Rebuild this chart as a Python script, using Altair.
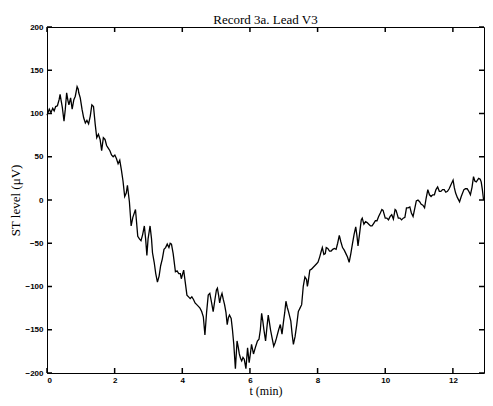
import altair as alt
import pandas as pd

# Time (min) and ST level (µV)
t_min = [0.0, 0.067, 0.116, 0.169, 0.212, 0.256, 0.308, 0.358, 0.387, 0.422, 0.453, 0.503,
         0.541, 0.581, 0.619, 0.648, 0.698, 0.744, 0.794, 0.837, 0.890, 0.924, 0.939, 0.983,
         1.035, 1.084, 1.134, 1.180, 1.230, 1.279, 1.326, 1.375, 1.424, 1.471, 1.520, 1.570,
         1.616, 1.666, 1.715, 1.762, 1.811, 1.860, 1.907, 1.956, 2.006, 2.052, 2.102, 2.151,
         2.198, 2.247, 2.297, 2.343, 2.378, 2.436, 2.488, 2.538, 2.616, 2.683, 2.733, 2.779,
         2.828, 2.878, 2.916, 2.953, 2.988, 3.047, 3.090, 3.119, 3.169, 3.215, 3.265, 3.314,
         3.360, 3.410, 3.459, 3.506, 3.555, 3.605, 3.642, 3.680, 3.730, 3.797, 3.846, 3.895,
         3.942, 3.971, 4.041, 4.087, 4.137, 4.186, 4.233, 4.282, 4.331, 4.378, 4.427, 4.477,
         4.523, 4.573, 4.622, 4.669, 4.718, 4.767, 4.814, 4.863, 4.913, 4.965, 5.009, 5.038,
         5.073, 5.105, 5.140, 5.174, 5.212, 5.250, 5.291, 5.328, 5.363, 5.395, 5.445, 5.483,
         5.523, 5.570, 5.619, 5.654, 5.686, 5.721, 5.756, 5.794, 5.831, 5.881, 5.930, 5.977,
         6.012, 6.047, 6.105, 6.172, 6.221, 6.267, 6.308, 6.346, 6.381, 6.413, 6.462, 6.500,
         6.541, 6.578, 6.608, 6.657, 6.703, 6.744, 6.782, 6.849, 6.898, 6.948, 6.994, 7.029,
         7.064, 7.102, 7.140, 7.209, 7.247, 7.285, 7.334, 7.384, 7.430, 7.480, 7.529, 7.576,
         7.625, 7.674, 7.698, 7.721, 7.770, 7.820, 7.866, 7.916, 7.965, 8.012, 8.061, 8.110,
         8.140, 8.186, 8.227, 8.256, 8.302, 8.352, 8.401, 8.448, 8.497, 8.547, 8.593, 8.642,
         8.686, 8.738, 8.788, 8.837, 8.884, 8.933, 8.983, 9.029, 9.078, 9.128, 9.166, 9.195,
         9.238, 9.291, 9.320, 9.369, 9.419, 9.465, 9.514, 9.564, 9.610, 9.660, 9.709, 9.756,
         9.805, 9.855, 9.901, 9.936, 10.000, 10.047, 10.096, 10.145, 10.192, 10.241, 10.291,
         10.320, 10.387, 10.436, 10.483, 10.532, 10.581, 10.628, 10.677, 10.727, 10.773,
         10.823, 10.872, 10.919, 10.968, 11.017, 11.064, 11.113, 11.163, 11.209, 11.259,
         11.308, 11.355, 11.404, 11.453, 11.500, 11.549, 11.599, 11.645, 11.695, 11.744,
         11.791, 11.840, 11.890, 11.936, 12.006, 12.044, 12.081, 12.131, 12.198, 12.247,
         12.326, 12.372, 12.422, 12.471, 12.518, 12.567, 12.610, 12.648, 12.692, 12.762,
         12.808, 12.837, 12.872, 12.907]

st_uv = [98, 105, 101, 106, 103, 108, 109, 116, 122, 114, 107, 91,
         105, 124, 115, 110, 118, 105, 116, 120, 131, 128, 124, 118,
         105, 95, 89, 92, 88, 97, 110, 108, 88, 72, 76, 70,
         57, 72, 70, 63, 60, 57, 52, 50, 52, 48, 42, 46,
         35, 22, 4, 8, 17, -2, -30, -20, -11, -42, -45, -47,
         -40, -30, -45, -64, -45, -30, -45, -61, -72, -85, -95, -88,
         -76, -68, -57, -55, -51, -55, -50, -51, -62, -83, -82, -85,
         -85, -91, -81, -95, -110, -112, -114, -112, -115, -119, -121, -123,
         -125, -129, -135, -156, -130, -110, -108, -118, -129, -115, -104, -102,
         -110, -119, -112, -108, -115, -121, -130, -144, -136, -133, -137, -150,
         -167, -195, -163, -170, -178, -183, -186, -182, -184, -195, -171, -188,
         -178, -167, -178, -169, -163, -161, -150, -131, -140, -150, -163, -148,
         -133, -142, -150, -160, -169, -165, -160, -150, -144, -155, -140, -130,
         -117, -124, -129, -140, -155, -167, -158, -144, -129, -125, -121, -100,
         -89, -92, -100, -95, -81, -80, -78, -76, -74, -72, -66, -59,
         -55, -63, -62, -55, -56, -59, -59, -57, -56, -57, -50, -41,
         -48, -55, -58, -62, -66, -72, -62, -51, -40, -31, -42, -53,
         -40, -23, -21, -28, -25, -26, -28, -30, -30, -27, -24, -24,
         -19, -15, -11, -12, -21, -21, -23, -19, -17, -22, -11,
         -12, -21, -21, -23, -21, -20, -9, -9, -8, -15,
         -19, -10, -1, 0, -2, -5, -6, -9, 2, 12,
         6, 4, 6, 6, 12, 15, 10, 10, 12, 12,
         9, 10, 13, 17, 23, 14, 8, 3, -2, 4,
         12, 13, 13, 10, 6, 15, 27, 22, 21, 25,
         24, 21, 12, 0]

x_ticks = [0, 2, 4, 6, 8, 10, 12]
y_ticks = [-200, -150, -100, -50, 0, 50, 100, 150, 200]

W, H = 437, 346
TICK = 5

df = pd.DataFrame({"t": t_min, "st": st_uv})
xt = pd.DataFrame({"t": x_ticks})
yt = pd.DataFrame({"st": y_ticks})

xscale = alt.Scale(domain=[0, 12.92], nice=False, zero=False)
yscale = alt.Scale(domain=[-200, 200], nice=False, zero=False)

xaxis = alt.Axis(title="t (min)", values=x_ticks, tickSize=0, domain=False, grid=False,
                 labelFont="Liberation Sans", labelFontWeight="bold", labelFontSize=8,
                 labelColor="black", labelPadding=3,
                 titleFont="Liberation Serif", titleFontSize=12, titleFontWeight="normal",
                 titleColor="black", titlePadding=1)
yaxis = alt.Axis(title="ST level (μV)", values=y_ticks, tickSize=0, domain=False, grid=False,
                 labelFont="Liberation Sans", labelFontWeight="bold", labelFontSize=8,
                 labelColor="black", labelPadding=4,
                 titleFont="Liberation Serif", titleFontSize=13, titleFontWeight="normal",
                 titleColor="black", titlePadding=2)

X = alt.X("t:Q", scale=xscale, axis=xaxis)
Y = alt.Y("st:Q", scale=yscale, axis=yaxis)

line = alt.Chart(df).mark_line(color="black", strokeWidth=1.3).encode(x=X, y=Y)

bottom_ticks = alt.Chart(xt).mark_rule(color="black", strokeWidth=1.5).encode(
    x=X, y=alt.value(H - TICK), y2=alt.value(H))
top_ticks = alt.Chart(xt).mark_rule(color="black", strokeWidth=1.5).encode(
    x=X, y=alt.value(0), y2=alt.value(TICK))
left_ticks = alt.Chart(yt).mark_rule(color="black", strokeWidth=1.5).encode(
    y=Y, x=alt.value(0), x2=alt.value(TICK))
right_ticks = alt.Chart(yt).mark_rule(color="black", strokeWidth=1.5).encode(
    y=Y, x=alt.value(W - TICK), x2=alt.value(W))

chart = alt.layer(line, bottom_ticks, top_ticks, left_ticks, right_ticks).properties(
    width=W, height=H,
    title=alt.TitleParams("Record 3a. Lead V3", font="Liberation Serif", fontSize=13,
                          fontWeight="normal", color="black", offset=-4, anchor="middle"),
    autosize=alt.AutoSizeParams(type="none"),
    padding={"left": 39, "top": 19, "right": 1, "bottom": 25},
).configure_view(stroke="black", strokeWidth=1)

chart.save("out.html", embed_options={"renderer": "svg", "actions": False})
